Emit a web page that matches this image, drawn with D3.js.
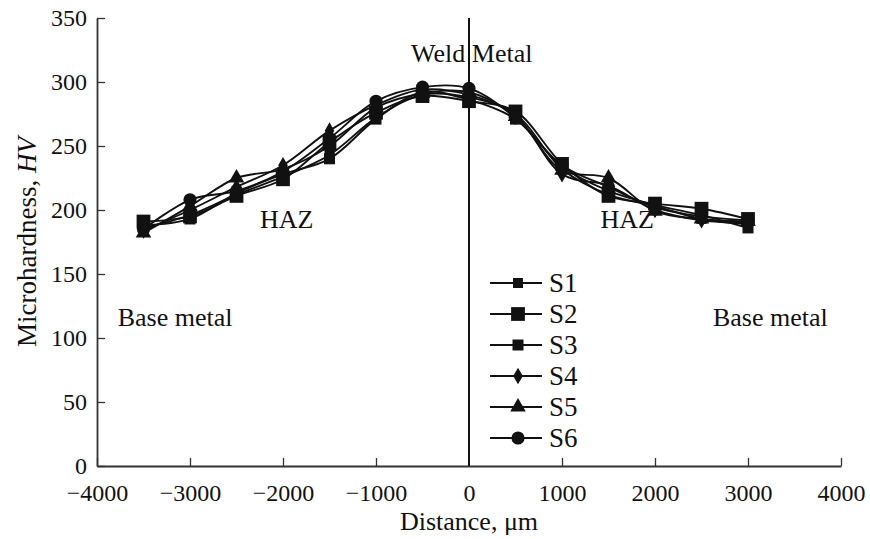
<!DOCTYPE html>
<html>
<head>
<meta charset="utf-8">
<script src="https://cdn.jsdelivr.net/npm/d3@7"></script>
<style>
  body { margin: 0; background: #fff; }
  text { font-family: "Liberation Serif", "DejaVu Serif", serif; fill: #111; }
</style>
</head>
<body>
<svg id="chart" width="870" height="539"></svg>
<script>
// distances along the weld, um
var distances = [-3500, -3000, -2500, -2000, -1500, -1000, -500, 0, 500, 1000, 1500, 2000, 2500, 3000];
var s1 = [186, 196, 212, 226, 243, 272, 290, 288, 275, 232, 212, 203, 193, 189];
var s2 = [191, 195, 211, 224, 253, 276, 289, 285, 277, 236, 211, 205, 201, 193];
var s3 = [188, 193, 213, 228, 240, 271, 292, 286, 271, 234, 215, 204, 196, 186];
var s4 = [184, 200, 218, 235, 262, 282, 294, 290, 274, 228, 219, 200, 192, 190];
var s5 = [182, 203, 225, 232, 250, 280, 291, 292, 273, 231, 225, 199, 193, 191];
var s6 = [185, 208, 215, 230, 256, 285, 296, 295, 272, 235, 218, 202, 195, 192];
var seriesNames = ["S1", "S2", "S3", "S4", "S5", "S6"];
var xTicks = [-4000, -3000, -2000, -1000, 0, 1000, 2000, 3000, 4000];
var yTicks = [0, 50, 100, 150, 200, 250, 300, 350];

var seriesValues = [s1, s2, s3, s4, s5, s6];
var symbols = [
  {type: d3.symbolSquare, size: 100},
  {type: d3.symbolSquare, size: 190},
  {type: d3.symbolSquare, size: 121},
  {type: d3.symbolDiamond, size: 80},
  {type: d3.symbolTriangle, size: 105},
  {type: d3.symbolCircle, size: 135}
];

var svg = d3.select("#chart");
var plotLeft = 97, plotRight = 841, plotTop = 18, plotBottom = 466;

var x = d3.scaleLinear().domain([-4000, 4000]).range([plotLeft, plotRight]);
var y = d3.scaleLinear().domain([0, 350]).range([plotBottom, plotTop]);

// axes, ticks pointing inwards
var fmt = function (d) { return d < 0 ? "\u2212" + Math.abs(d) : String(d); };
var xAxis = svg.append("g").attr("transform", "translate(0," + plotBottom + ")")
  .call(d3.axisBottom(x).tickValues(xTicks).tickSizeInner(-8).tickSizeOuter(0).tickPadding(18).tickFormat(fmt));
var yAxis = svg.append("g").attr("transform", "translate(" + plotLeft + ",0)")
  .call(d3.axisLeft(y).tickValues(yTicks).tickSizeInner(-8).tickSizeOuter(0).tickPadding(10));
[xAxis, yAxis].forEach(function (a) {
  a.select(".domain").attr("stroke", "#333").attr("stroke-width", 1.8);
  a.selectAll(".tick line").attr("stroke", "#333").attr("stroke-width", 1.3);
  a.selectAll(".tick text").attr("font-family", "Liberation Serif").attr("font-size", 24).attr("fill", "#111");
});
xAxis.selectAll(".tick").filter(function (d) { return d === 0; }).select("line").remove();

// weld centre line
svg.append("line")
  .attr("x1", x(0)).attr("x2", x(0)).attr("y1", y(350)).attr("y2", y(0))
  .attr("stroke", "#111").attr("stroke-width", 2);

var line = d3.line()
  .x(function (d) { return x(d[0]); })
  .y(function (d) { return y(d[1]); })
  .curve(d3.curveCatmullRom.alpha(0.5));

seriesValues.forEach(function (vals, i) {
  var pts = distances.map(function (d, j) { return [d, vals[j]]; });
  svg.append("path").datum(pts)
    .attr("d", line).attr("fill", "none").attr("stroke", "#111").attr("stroke-width", 1.9);
});
seriesValues.forEach(function (vals, i) {
  var sym = d3.symbol().type(symbols[i].type).size(symbols[i].size);
  svg.append("g").selectAll("path").data(distances).enter().append("path")
    .attr("d", sym)
    .attr("transform", function (d, j) { return "translate(" + x(d) + "," + y(vals[j]) + ")"; })
    .attr("fill", "#111");
});

// region labels
var labels = [
  {t: "Weld Metal", v: 30, h: 316},
  {t: "HAZ", v: -1960, h: 186},
  {t: "HAZ", v: 1700, h: 186},
  {t: "Base metal", v: -3160, h: 109},
  {t: "Base metal", v: 3240, h: 109}
];
labels.forEach(function (l) {
  svg.append("text").attr("x", x(l.v)).attr("y", y(l.h)).attr("text-anchor", "middle")
    .attr("font-size", 26).text(l.t);
});

// legend
var legend = svg.append("g").attr("transform", "translate(490,283)");
seriesNames.forEach(function (n, i) {
  var g = legend.append("g").attr("transform", "translate(0," + i * 31 + ")");
  g.append("line").attr("x1", 0).attr("x2", 52).attr("stroke", "#111").attr("stroke-width", 1.9);
  g.append("path").attr("d", d3.symbol().type(symbols[i].type).size(symbols[i].size))
    .attr("transform", "translate(28,0)").attr("fill", "#111");
  g.append("text").attr("x", 59).attr("y", 9).attr("font-size", 27).text(n);
});

// axis titles
svg.append("text").attr("x", x(0)).attr("y", 530).attr("text-anchor", "middle")
  .attr("font-size", 26).text("Distance, \u03bcm");
var yt = svg.append("text").attr("transform", "translate(36," + y(175) + ") rotate(-90)")
  .attr("text-anchor", "middle").attr("font-size", 27);
yt.append("tspan").text("Microhardness, ");
yt.append("tspan").attr("font-style", "italic").text("HV");
</script>
</body>
</html>
